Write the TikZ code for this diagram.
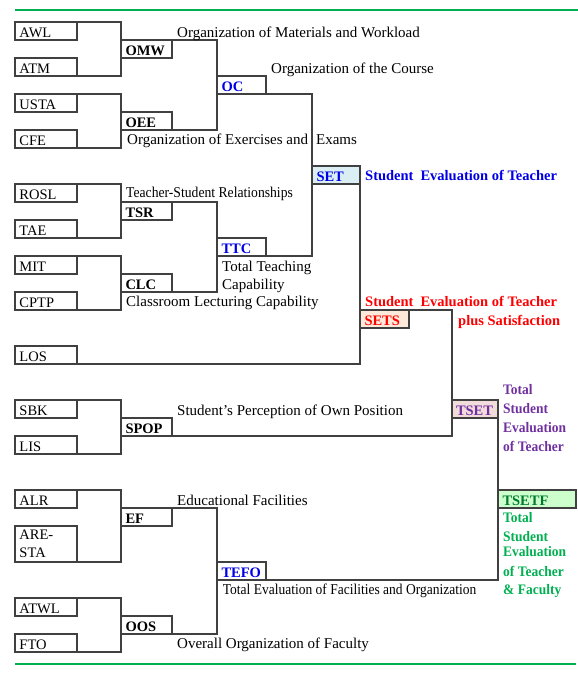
\documentclass[tikz,border=0pt]{standalone}
\usepackage{fontspec}
\setmainfont{Liberation Serif}
\definecolor{lc}{HTML}{404040}
\definecolor{cblue}{HTML}{0000E6}
\definecolor{cred}{HTML}{FF0000}
\definecolor{cpurple}{HTML}{7030A0}
\definecolor{cgreen}{HTML}{00B050}
\definecolor{cdkgreen}{HTML}{007A2E}
\definecolor{fset}{HTML}{DAEEF3}
\definecolor{fsets}{HTML}{FDE9D9}
\definecolor{ftset}{HTML}{F2DCDB}
\definecolor{ftsetf}{HTML}{CCFFCC}
\definecolor{rulegreen}{HTML}{00B050}
\begin{document}
\begin{tikzpicture}[x=1pt,y=-1pt,
  font=\fontsize{14.5}{17.5}\selectfont,
  ln/.style={draw=lc, line width=1.1pt},
  bx/.style={draw=lc, line width=1.1pt, fill=white, anchor=north west,
    outer sep=0pt, inner xsep=4.5pt, inner ysep=0pt, minimum height=18pt,
    text height=15.5pt, text depth=2.5pt, align=left},
  leaf/.style={bx, text width=53pt},
  lvtwo/.style={bx, text width=42pt, font=\fontsize{14.5}{17.5}\selectfont\bfseries},
  lvthree/.style={bx, text width=40pt, font=\fontsize{14.5}{17.5}\selectfont\bfseries, text=cblue},
  lbl/.style={anchor=base west, inner sep=0pt, align=left, font=\fontsize{15}{17.5}\selectfont},
  blbl/.style={lbl, font=\fontsize{14.5}{18.7}\selectfont\bfseries},
  stk/.style={lbl, font=\fontsize{14.5}{18.7}\selectfont\bfseries},
  rulestyle/.style={draw=rulegreen, line width=1.5pt}
]
\useasboundingbox (0,0) rectangle (578,675);
\draw[rulestyle] (15,10) -- (578,10);
\draw[rulestyle] (15,664) -- (576,664);

% leaves
\node[leaf] (awl) at (15,22) {AWL};
\node[leaf] (atm) at (15,58) {ATM};
\node[leaf] (usta) at (15,94) {USTA};
\node[leaf] (cfe) at (15,130) {CFE};
\node[leaf] (rosl) at (15,184) {ROSL};
\node[leaf] (tae) at (15,220) {TAE};
\node[leaf] (mit) at (15,256) {MIT};
\node[leaf] (cptp) at (15,292) {CPTP};
\node[leaf] (los) at (15,346) {LOS};
\node[leaf] (sbk) at (15,400) {SBK};
\node[leaf] (lis) at (15,436) {LIS};
\node[leaf] (alr) at (15,490) {ALR};
\node[leaf, minimum height=36pt, text height=13.7pt, text depth=22.3pt] (aresta) at (15,526) {ARE-\\STA};
\node[leaf] (atwl) at (15,598) {ATWL};
\node[leaf] (fto) at (15,634) {FTO};

% level two
\node[lvtwo] (omw) at (121,40) {OMW};
\node[lvtwo] (oee) at (121,112) {OEE};
\node[lvtwo] (tsr) at (121,202) {TSR};
\node[lvtwo] (clc) at (121,274) {CLC};
\node[lvtwo] (spop) at (121,418) {SPOP};
\node[lvtwo] (ef) at (121,508) {EF};
\node[lvtwo] (oos) at (121,616) {OOS};

% level three
\node[lvthree] (oc) at (217,76) {OC};
\node[lvthree] (ttc) at (217,238) {TTC};
\node[lvthree] (tefo) at (217,562) {TEFO};

% higher levels
\node[bx, text width=39pt, fill=fset, text=cblue, font=\fontsize{14.5}{17.5}\selectfont\bfseries] (nset) at (312,166) {SET};
\node[bx, text width=40pt, fill=fsets, text=cred, font=\fontsize{14.5}{17.5}\selectfont\bfseries] (sets) at (360,310) {SETS};
\node[bx, text width=38pt, inner xsep=4pt, fill=ftset, text=cpurple, font=\fontsize{14.5}{17.5}\selectfont\bfseries] (tset) at (452,400) {TSET};
\node[bx, text width=69pt, fill=ftsetf, text=cdkgreen, font=\fontsize{14.5}{17.5}\selectfont\bfseries] (tsetf) at (498,490) {TSETF};

% connectors: leaves
\draw[ln] (awl.north east) -| (omw.west) |- (atm.south east);
\draw[ln] (usta.north east) -| (oee.west) |- (cfe.south east);
\draw[ln] (rosl.north east) -| (tsr.west) |- (tae.south east);
\draw[ln] (mit.north east) -| (clc.west) |- (cptp.south east);
\draw[ln] (sbk.north east) -| (spop.west) |- (lis.south east);
\draw[ln] (alr.north east) -| (ef.west) |- (aresta.south east);
\draw[ln] (atwl.north east) -| (oos.west) |- (fto.south east);
% level two to three
\draw[ln] (omw.north east) -| (oc.west) |- (oee.south east);
\draw[ln] (tsr.north east) -| (ttc.west) |- (clc.south east);
\draw[ln] (ef.north east) -| (tefo.west) |- (oos.south east);
% higher
\draw[ln] (oc.south east) -| (nset.west) |- (ttc.south east);
\draw[ln] (nset.south east) -| (sets.west) |- (los.south east);
\draw[ln] (sets.north east) -| (tset.west) |- (spop.south east);
\draw[ln] (tset.south east) -| (tsetf.west) |- (tefo.south east);

% labels (multi-line nodes: base = baseline of last line)
\node[lbl] (tomw) at (177,37.5) {Organization of Materials and Workload};
\node[lbl] (toc) at (271,73) {Organization of the Course};
\node[lbl] (toee) at (127,144.5) {Organization of Exercises and\hspace{8pt}Exams};
\node[lbl] (ttsr) at (126,197.5) {\scalebox{0.91}[1]{Teacher-Student Relationships}};
\node[lbl] (tttc) at (222,289) {Total Teaching\\Capability};
\node[lbl] (tclc) at (126,306.5) {Classroom Lecturing Capability};
\node[blbl, text=cblue] (tset1) at (365,180) {Student\hspace{7pt}Evaluation of Teacher};
\node[blbl, text=cred] (tsets1) at (365,306.5) {Student\hspace{7pt}Evaluation of Teacher};
\node[blbl, text=cred] (tsets2) at (458,325.5) {plus Satisfaction};
\node[lbl] (tspop) at (177,415.5) {Student’s Perception of Own Position};
\node[stk, text=cpurple] (ttset) at (503,451) {\scalebox{0.93}[1]{Total}\\\scalebox{0.93}[1]{Student}\\\scalebox{0.93}[1]{Evaluation}\\\scalebox{0.93}[1]{of Teacher}};
\node[lbl] (tef) at (177,505) {Educational Facilities};
\node[stk, text=cgreen, font=\fontsize{14.5}{17.5}\selectfont\bfseries] (ttsetf) at (503,594) {\scalebox{0.93}[1]{Total}\\[1.5pt]\scalebox{0.93}[1]{Student}\\[-2.5pt]\scalebox{0.93}[1]{Evaluation}\\[1.8pt]\scalebox{0.93}[1]{of Teacher}\\[0.5pt]\scalebox{0.93}[1]{\& Faculty}};
\node[lbl] (ttefo) at (222.7,594) {\scalebox{0.9}[1]{Total Evaluation of Facilities and Organization}};
\node[lbl] (toos) at (177,648) {Overall Organization of Faculty};
\end{tikzpicture}
\end{document}
